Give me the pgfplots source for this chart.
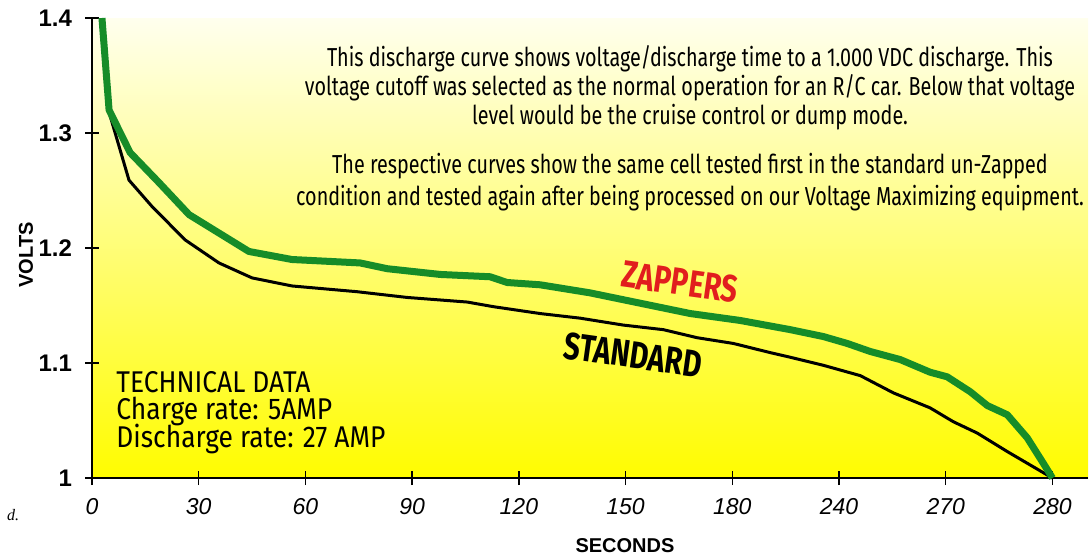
\documentclass[border=0pt]{standalone}
\usepackage{pgfplots}
\pgfplotsset{compat=1.18}
\usepackage{fontspec}
\setmainfont{Liberation Sans}
\setsansfont{Liberation Sans}
\newfontfamily\tek[FakeStretch=0.76]{Fira Sans}
\newfontfamily\tekw[FakeStretch=0.88]{Fira Sans}
\newfontfamily\serif{Liberation Serif}
\definecolor{zgreen}{RGB}{22,140,40}
\definecolor{zred}{RGB}{225,30,30}
\begin{document}
\begin{tikzpicture}[x=1pt,y=1pt]
\useasboundingbox (0,0) rectangle (545.5,279);
\begin{axis}[
 at={(46pt,40pt)}, anchor=south west,
 scale only axis, width=498pt, height=230pt,
 xmin=0, xmax=280, ymin=1, ymax=1.4,
 axis x line=bottom, axis y line=left,
 axis line style={-, line width=0.8pt},
 xtick={0,30,60,90,120,150,180,210,240,270},
 xticklabels={0,30,60,90,120,150,180,240,270,280},
 ytick={1,1.1,1.2,1.3,1.4},
 yticklabels={1,1.1,1.2,1.3,1.4},
 tick align=center, major tick length=7pt,
 tick style={line width=0.7pt, black},
 xticklabel style={font=\fontsize{11.5}{11.5}\selectfont\itshape, yshift=-3pt},
 yticklabel style={font=\fontsize{12}{12}\selectfont\bfseries, xshift=-3pt},
 axis background/.style={shade, top color={rgb,255:red,255;green,255;blue,238}, middle color={rgb,255:red,255;green,255;blue,130}, bottom color={rgb,255:red,255;green,252;blue,0}},
 clip=false,
]
\addplot[black, line width=1.5pt, line join=round] coordinates {
(4.8,1.318) (10.4,1.259) (16.9,1.236) (26.2,1.207) (35.7,1.187) (45.0,1.174) (56.2,1.167) (74.5,1.162) (88.6,1.157) (105.5,1.153) (112.8,1.149) (126.0,1.143) (137.2,1.139) (149.3,1.133) (160.6,1.129) (170.1,1.122) (180.3,1.117) (190.7,1.109) (196.3,1.105) (205.6,1.098) (216.0,1.089) (225.3,1.074) (235.6,1.061) (242.1,1.049) (248.9,1.039) (257.3,1.023) (270,1.000)
};
\addplot[zgreen, line width=3.5pt, line join=round] coordinates {
(2.8,1.400) (4.8,1.320) (10.7,1.283) (18.8,1.257) (27.3,1.229) (35.7,1.213) (44.1,1.197) (56.2,1.190) (75.4,1.187) (83.0,1.182) (97.9,1.177) (111.9,1.175) (116.7,1.170) (126.0,1.168) (140.0,1.161) (154.1,1.152) (168.2,1.143) (182.2,1.137) (196.3,1.129) (205.6,1.123) (212.3,1.117) (218.8,1.110) (227.2,1.103) (235.6,1.092) (240.4,1.088) (246.9,1.075) (251.7,1.063) (257.3,1.055) (262.9,1.035) (267.4,1.013) (270,1.000)
};
\end{axis}
\node[font=\tek\fontsize{13}{14.5}\selectfont, align=center] at (345,235) {This discharge curve shows voltage/discharge time to a 1.000 VDC discharge. This\\voltage cutoff was selected as the normal operation for an R/C car. Below that voltage\\level would be the cruise control or dump mode.};
\node[font=\tek\fontsize{13}{16}\selectfont, align=center] at (345,188) {The respective curves show the same cell tested first in the standard un-Zapped\\condition and tested again after being processed on our Voltage Maximizing equipment.};
\node[font=\tekw\fontsize{15}{15}\selectfont, anchor=base west, inner sep=0pt] at (58,83) {TECHNICAL DATA};
\node[font=\tekw\fontsize{15}{15}\selectfont, anchor=base west, inner sep=0pt] at (58,69.5) {Charge rate: 5AMP};
\node[font=\tekw\fontsize{15}{15}\selectfont, anchor=base west, inner sep=0pt] at (58,55.5) {Discharge rate: 27 AMP};
\node[font=\tek\bfseries\fontsize{19}{19}\selectfont, text=zred, rotate=-8] at (340,138) {ZAPPERS};
\node[font=\tek\bfseries\fontsize{19}{19}\selectfont, text=black, rotate=-8] at (316.5,101.5) {STANDARD};
\node[rotate=90, font=\bfseries\fontsize{10}{10}\selectfont] at (13,151.5) {VOLTS};
\node[font=\bfseries\fontsize{10}{10}\selectfont] at (312.5,6) {SECONDS};
\node[font=\serif\itshape\fontsize{8}{8}\selectfont, anchor=west] at (0,21.5) {d.};
\end{tikzpicture}
\end{document}
